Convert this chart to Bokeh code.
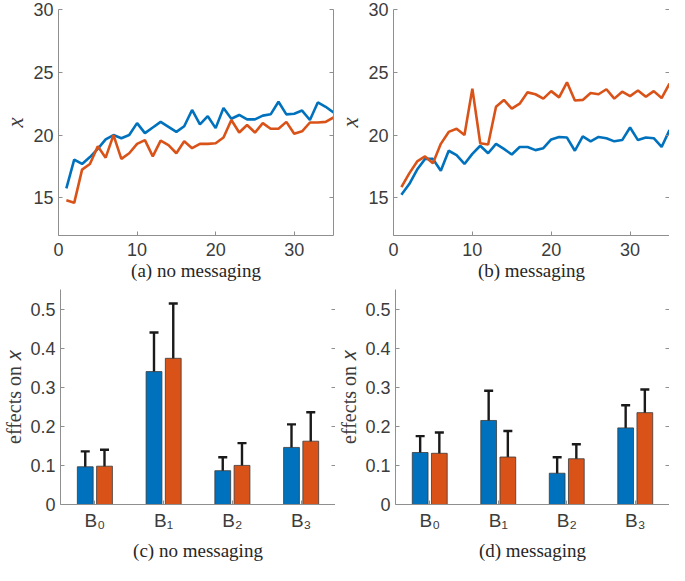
from bokeh.plotting import figure
from bokeh.layouts import column, row
from bokeh.models import (LinearAxis, FixedTicker, NumeralTickFormatter, Whisker,
                          TeeHead, ColumnDataSource, Range1d)
from bokeh.embed import file_html
from bokeh.resources import INLINE

# ---------------- data ----------------
t = list(range(1, 36))

a_blue = [15.75, 18.05, 17.7, 18.25, 18.9, 19.65, 20.0, 19.75, 20.0, 20.95,
          20.15, 20.6, 21.05, 20.65, 20.25, 20.7, 22.0, 20.85, 21.5, 20.55,
          22.15, 21.3, 21.6, 21.25, 21.25, 21.55, 21.65, 22.65, 21.65, 21.7,
          21.95, 21.2, 22.6, 22.25, 21.8]
a_orange = [14.8, 14.6, 17.25, 17.7, 19.1, 18.2, 20.0, 18.1, 18.55, 19.3,
            19.6, 18.3, 19.55, 19.2, 18.55, 19.5, 18.95, 19.3, 19.3, 19.35,
            19.8, 21.2, 20.2, 20.8, 20.2, 20.95, 20.5, 20.5, 21.05, 20.1,
            20.3, 21.0, 21.0, 21.05, 21.4]

b_blue = [15.25, 16.1, 17.25, 18.1, 18.1, 17.15, 18.75, 18.4, 17.7, 18.5,
          19.15, 18.55, 19.3, 18.9, 18.45, 19.05, 19.05, 18.8, 18.95, 19.65,
          19.85, 19.8, 18.75, 19.9, 19.5, 19.85, 19.75, 19.5, 19.6, 20.6,
          19.6, 19.8, 19.75, 19.05, 20.4]
b_orange = [15.85, 16.95, 17.9, 18.3, 17.75, 19.3, 20.25, 20.5, 20.0, 23.7,
            19.35, 19.25, 22.25, 22.8, 22.1, 22.5, 23.4, 23.25, 22.9, 23.5,
            23.0, 24.2, 22.75, 22.8, 23.35, 23.25, 23.65, 22.9, 23.45, 23.1,
            23.55, 23.05, 23.5, 22.95, 24.1]

cat_pos = [1, 2, 3, 4]
cat_labels = ["B\u2080", "B\u2081", "B\u2082", "B\u2083"]

c_blue = [0.0965, 0.340, 0.0865, 0.146]
c_blue_hi = [0.136, 0.440, 0.121, 0.205]
c_blue_lo = [0.057, 0.240, 0.052, 0.087]
c_orange = [0.098, 0.374, 0.100, 0.162]
c_orange_hi = [0.140, 0.514, 0.157, 0.236]
c_orange_lo = [0.055, 0.235, 0.044, 0.088]

d_blue = [0.133, 0.215, 0.080, 0.196]
d_blue_hi = [0.175, 0.291, 0.121, 0.254]
d_blue_lo = [0.0915, 0.139, 0.039, 0.138]
d_orange = [0.131, 0.1215, 0.117, 0.235]
d_orange_hi = [0.184, 0.188, 0.154, 0.294]
d_orange_lo = [0.076, 0.056, 0.082, 0.178]

line_ticks = [0, 10, 20, 30]
line_yticks = [15, 20, 25, 30]
bar_yticks = [0, 0.1, 0.2, 0.3, 0.4, 0.5]

BLUE = "#0072BD"
ORANGE = "#D95319"
AXIS_COL = "#8f8f8f"
LABEL_COL = "#3c3c3c"
TICK_FONT = "Liberation Sans"
SERIF = "Liberation Serif"


def style_axes(p, xticks, yticks, ylabel, caption, ylabel_style, ylabel_size,
               xstand, capstand, yfmt=None, xoverrides=None):
    xa = p.xaxis[0]
    ya = p.yaxis[0]
    xa.ticker = FixedTicker(ticks=xticks)
    ya.ticker = FixedTicker(ticks=yticks)
    if yfmt is not None:
        ya.formatter = yfmt
    if xoverrides is not None:
        xa.major_label_overrides = xoverrides
    for ax in (xa, ya):
        ax.axis_line_color = AXIS_COL
        ax.axis_line_width = 1
        ax.major_tick_line_color = AXIS_COL
        ax.major_tick_in = 4
        ax.major_tick_out = 0
        ax.minor_tick_line_color = None
        ax.major_label_text_font = TICK_FONT
        ax.major_label_text_font_size = "18px"
        ax.major_label_text_color = LABEL_COL
    xa.major_label_standoff = xstand
    ya.major_label_standoff = 5
    xa.axis_label = caption
    xa.axis_label_text_font = SERIF
    xa.axis_label_text_font_size = "19px"
    xa.axis_label_text_font_style = "normal"
    xa.axis_label_text_color = "#262626"
    xa.axis_label_standoff = capstand
    ya.axis_label = ylabel
    ya.axis_label_text_font = SERIF
    ya.axis_label_text_font_size = ylabel_size
    ya.axis_label_text_font_style = ylabel_style
    ya.axis_label_text_color = LABEL_COL
    ya.axis_label_standoff = 2
    # right border with inward ticks, no labels
    ra = LinearAxis(ticker=FixedTicker(ticks=yticks))
    ra.axis_line_color = AXIS_COL
    ra.major_tick_line_color = AXIS_COL
    ra.major_tick_in = 4
    ra.major_tick_out = 0
    ra.minor_tick_line_color = None
    ra.major_label_overrides = {v: "" for v in yticks}
    ra.major_label_standoff = 0
    ra.axis_label_standoff = 0
    p.add_layout(ra, "right")
    p.xgrid.visible = False
    p.ygrid.visible = False
    p.outline_line_color = None


def line_panel(blue, orange, caption, w, left_border, right_border):
    p = figure(width=w, height=283, x_range=Range1d(0, 35),
               y_range=Range1d(12, 30), output_backend="svg",
               toolbar_location=None, min_border_left=left_border,
               min_border_right=right_border, min_border_top=9,
               min_border_bottom=48)
    p.line(t, blue, line_color=BLUE, line_width=2.6)
    p.line(t, orange, line_color=ORANGE, line_width=2.6)
    style_axes(p, line_ticks, line_yticks, "x", caption, "italic", "23px",
               7, 1)
    return p


def bar_panel(blue, blue_lo, blue_hi, orange, orange_lo, orange_hi, caption,
              w, left_border, right_border):
    p = figure(width=w, height=282, x_range=Range1d(0.5, 4.5),
               y_range=Range1d(0, 0.55), output_backend="svg",
               toolbar_location=None, min_border_left=left_border,
               min_border_right=right_border, min_border_top=6,
               min_border_bottom=61)
    off = 0.14
    xb = [c - off for c in cat_pos]
    xo = [c + off for c in cat_pos]
    p.vbar(x=xb, top=blue, bottom=0, width=0.23, fill_color=BLUE,
           line_color="#3a3a3a", line_width=0.8)
    p.vbar(x=xo, top=orange, bottom=0, width=0.23, fill_color=ORANGE,
           line_color="#3a3a3a", line_width=0.8)
    src = ColumnDataSource(dict(x=xb + xo, lo=blue_lo + orange_lo,
                                hi=blue_hi + orange_hi))
    wh = Whisker(base="x", lower="lo", upper="hi", source=src,
                 line_color="#1a1a1a", line_width=2.4,
                 upper_head=TeeHead(size=9, line_color="#1a1a1a", line_width=2.4),
                 lower_head=TeeHead(size=9, line_color="#1a1a1a", line_width=2.4))
    p.add_layout(wh)
    style_axes(p, cat_pos, bar_yticks, "effects on \U0001D465", caption,
               "normal", "20px", 5, 6,
               yfmt=NumeralTickFormatter(format="0.[0]"),
               xoverrides={c: l for c, l in zip(cat_pos, cat_labels)})
    p.xaxis[0].major_label_text_font_size = "19px"
    return p


pa = line_panel(a_blue, a_orange, "(a) no messaging", 335, 47, 2)
pb = line_panel(b_blue, b_orange, "(b) messaging", 334, 53, 0)
pc = bar_panel(c_blue, c_blue_lo, c_blue_hi, c_orange, c_orange_lo, c_orange_hi,
               "(c) no messaging", 335, 54, 0)
pd = bar_panel(d_blue, d_blue_lo, d_blue_hi, d_orange, d_orange_lo, d_orange_hi,
               "(d) messaging", 334, 58, 0)

layout = column(row(pa, pb), row(pc, pd))
open("out.html", "w").write(file_html(layout, INLINE))
